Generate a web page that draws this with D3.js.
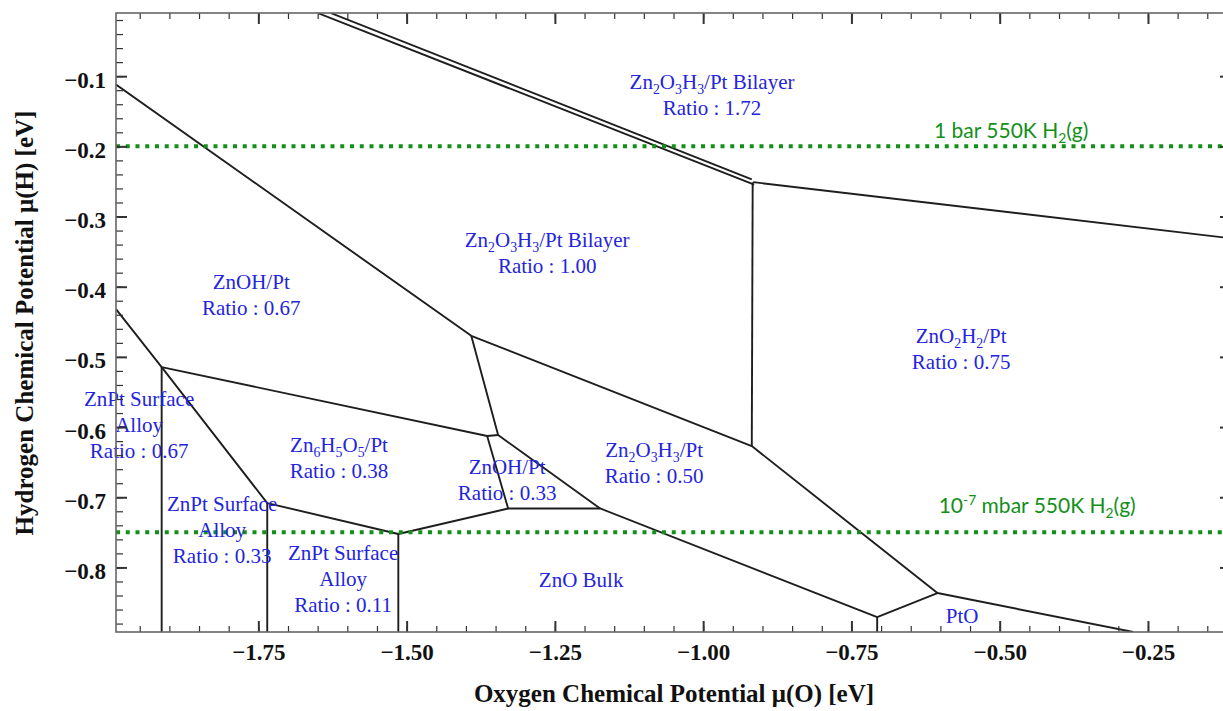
<!DOCTYPE html>
<html>
<head>
<meta charset="utf-8">
<script src="https://cdn.jsdelivr.net/npm/d3@7"></script>
<style>
  body { margin: 0; background: #fff; }
  svg { display: block; }
</style>
</head>
<body>
<div id="chart"></div>
<script>
// ---- data (eV) ----
const xDomain = [-1.99, -0.11];
const yDomain = [-0.892, -0.01];

const xMajorTicks = [-1.75, -1.5, -1.25, -1.0, -0.75, -0.5, -0.25];
const yMajorTicks = [-0.1, -0.2, -0.3, -0.4, -0.5, -0.6, -0.7, -0.8];
const xMinorTicks = d3.range(-39, -2).map(i => i * 0.05);
const yMinorTicks = d3.range(-44, 0).map(i => i * 0.02);

// phase boundaries, polylines of [mu(O), mu(H)]
const boundaryLines = [
  [[-1.99, -0.112], [-1.391, -0.470], [-0.918, -0.627], [-0.605, -0.8365], [-0.275, -0.892]],
  // thin bilayer strip (double line)
  [[-1.6273, -0.0103], [-0.918, -0.247]],
  [[-1.6492, -0.0103], [-0.914, -0.2545]],
  [[-0.9157, -0.251], [-0.11, -0.331]],
  [[-0.9165, -0.251], [-0.918, -0.627]],
  [[-1.391, -0.470], [-1.3457, -0.6114], [-1.1737, -0.716], [-0.7066, -0.8707], [-0.605, -0.8365]],
  [[-1.99, -0.432], [-1.913, -0.5145], [-1.3642, -0.6128], [-1.3457, -0.6114]],
  [[-1.3642, -0.6128], [-1.3288, -0.716], [-1.1737, -0.716]],
  [[-1.3288, -0.716], [-1.514, -0.7524], [-1.735, -0.7083], [-1.913, -0.5145]],
  [[-1.913, -0.5145], [-1.913, -0.892]],
  [[-1.735, -0.7083], [-1.735, -0.892]],
  [[-1.514, -0.7524], [-1.514, -0.892]],
  [[-0.7066, -0.8707], [-0.7066, -0.892]],
];

// phase labels: '|' breaks a line, _{} subscript
const phaseNames = [
  'Zn_{2}O_{3}H_{3}/Pt Bilayer', 'Zn_{2}O_{3}H_{3}/Pt Bilayer', 'ZnOH/Pt',
  'ZnO_{2}H_{2}/Pt', 'ZnPt Surface|Alloy', 'Zn_{6}H_{5}O_{5}/Pt',
  'ZnPt Surface|Alloy', 'ZnPt Surface|Alloy', 'ZnOH/Pt',
  'Zn_{2}O_{3}H_{3}/Pt', 'ZnO Bulk', 'PtO',
];
const phaseRatios = ['1.72', '1.00', '0.67', '0.75', '0.67', '0.38', '0.33', '0.11', '0.33', '0.50', null, null];
const phaseLabelAt = [
  [-0.985, -0.1185], [-1.263, -0.344], [-1.762, -0.4034], [-0.565, -0.4803],
  [-1.951, -0.570], [-1.614, -0.6356], [-1.811, -0.7197], [-1.607, -0.7895],
  [-1.3305, -0.667], [-1.0826, -0.6427], [-1.2057, -0.828], [-0.5632, -0.879],
];

// H2 gas reference levels
const h2Levels = [-0.2, -0.75];
const h2LevelNames = ['1 bar 550K H_{2}(g)', '10^{-7} mbar 550K H_{2}(g)'];
const h2LabelAt = [[-0.4806, -0.1883], [-0.4368, -0.7225]];

// ---- layout ----
const width = 1223;
const height = 711;
const margin = { top: 13, left: 116, bottom: 79 };
const plotRight = 1231; // frame runs just past the picture edge

const x = d3.scaleLinear().domain(xDomain).range([margin.left, plotRight]);
const y = d3.scaleLinear().domain(yDomain).range([height - margin.bottom, margin.top]);

const serif = '"Liberation Serif", "Times New Roman", serif';
const blue = '#2424dc';
const green = '#12901a';

const svg = d3.select('#chart').append('svg')
  .attr('width', width)
  .attr('height', height)
  .style('background', '#fff');

svg.append('clipPath').attr('id', 'plotClip')
  .append('rect')
  .attr('x', x.range()[0]).attr('y', y.range()[1])
  .attr('width', x.range()[1] - x.range()[0])
  .attr('height', y.range()[0] - y.range()[1]);

// rich text with sub/superscripts
function richText(sel, str, fontSize) {
  const parts = str.split(/([_^]\{[^}]*\})/).filter(s => s.length);
  let shift = 0;
  parts.forEach(p => {
    let target = 0;
    let txt = p;
    let size = null;
    if (p[0] === '_') {
      target = fontSize * 0.24; txt = p.slice(2, -1); size = `${fontSize * 0.66}px`;
    } else if (p[0] === '^') {
      target = -fontSize * 0.38; txt = p.slice(2, -1); size = `${fontSize * 0.66}px`;
    }
    sel.append('tspan')
      .attr('dy', target - shift)
      .style('font-size', size)
      .text(txt);
    shift = target;
  });
}

// ---- boundaries ----
const line = d3.line().x(d => x(d[0])).y(d => y(d[1]));

svg.append('g')
  .attr('clip-path', 'url(#plotClip)')
  .selectAll('path')
  .data(boundaryLines)
  .join('path')
  .attr('d', line)
  .style('fill', 'none')
  .style('stroke', '#1e1e1e')
  .style('stroke-width', 1.9)
  .style('stroke-linejoin', 'round');

// ---- H2 levels ----
svg.append('g')
  .selectAll('line')
  .data(h2Levels)
  .join('line')
  .attr('x1', x.range()[0])
  .attr('x2', width)
  .attr('y1', d => y(d))
  .attr('y2', d => y(d))
  .style('stroke', green)
  .style('stroke-width', 4)
  .style('stroke-dasharray', '4 5.75');

const greenSize = 21;
h2LevelNames.forEach((name, i) => {
  const t = svg.append('text')
    .attr('x', x(h2LabelAt[i][0]))
    .attr('y', y(h2LabelAt[i][1]))
    .attr('text-anchor', 'middle')
    .style('font-family', 'Lato, "Open Sans", sans-serif')
    .style('font-size', `${greenSize}px`)
    .style('fill', green);
  richText(t, name, greenSize);
});

// ---- phase labels ----
const labelSize = 21;
const lineGap = 25.8;
phaseNames.forEach((name, i) => {
  const rows = name.split('|');
  if (phaseRatios[i]) rows.push(`Ratio : ${phaseRatios[i]}`);
  rows.forEach((row, j) => {
    const t = svg.append('text')
      .attr('x', x(phaseLabelAt[i][0]))
      .attr('y', y(phaseLabelAt[i][1]) + j * lineGap)
      .attr('text-anchor', 'middle')
      .style('font-family', serif)
      .style('font-size', `${labelSize}px`)
      .style('fill', blue);
    richText(t, row, labelSize);
  });
});

// ---- axes ----
const fmtX = d3.format('.2f');
const fmtY = d3.format('.1f');
const yBottom = y.range()[0];
const yTop = y.range()[1];

function styleAxis(g, w) {
  g.select('.domain').remove();
  g.selectAll('line').style('stroke', '#333').style('stroke-width', w);
  g.selectAll('text')
    .style('font-family', serif)
    .style('font-weight', 'bold')
    .style('font-size', '23px')
    .style('fill', '#111');
}

svg.append('g')
  .attr('transform', `translate(0,${yBottom})`)
  .call(d3.axisBottom(x).tickValues(xMinorTicks).tickSize(-6).tickFormat(''))
  .call(g => styleAxis(g, 1.2));
svg.append('g')
  .attr('transform', `translate(0,${yBottom})`)
  .call(d3.axisBottom(x).tickValues(xMajorTicks).tickSize(-11).tickPadding(12).tickFormat(fmtX))
  .call(g => styleAxis(g, 2));

svg.append('g')
  .attr('transform', `translate(0,${yTop})`)
  .call(d3.axisTop(x).tickValues(xMinorTicks).tickSize(-6).tickFormat(''))
  .call(g => styleAxis(g, 1.2));
svg.append('g')
  .attr('transform', `translate(0,${yTop})`)
  .call(d3.axisTop(x).tickValues(xMajorTicks).tickSize(-11).tickFormat(''))
  .call(g => styleAxis(g, 2));

svg.append('g')
  .attr('transform', `translate(${x.range()[0]},0)`)
  .call(d3.axisLeft(y).tickValues(yMinorTicks).tickSize(-7).tickFormat(''))
  .call(g => styleAxis(g, 1.2));
svg.append('g')
  .attr('transform', `translate(${x.range()[0]},0)`)
  .call(d3.axisLeft(y).tickValues(yMajorTicks).tickSize(-11).tickPadding(10).tickFormat(fmtY))
  .call(g => styleAxis(g, 2))
  .call(g => g.selectAll('text').attr('dy', '0.48em'));

svg.append('g')
  .attr('transform', `translate(${plotRight},0)`)
  .call(d3.axisRight(y).tickValues(yMinorTicks).tickSize(-7).tickFormat(''))
  .call(g => styleAxis(g, 1.2));
svg.append('g')
  .attr('transform', `translate(${plotRight},0)`)
  .call(d3.axisRight(y).tickValues(yMajorTicks).tickSize(-11).tickFormat(''))
  .call(g => styleAxis(g, 2));

// frame
svg.append('rect')
  .attr('x', x.range()[0])
  .attr('y', yTop)
  .attr('width', plotRight - x.range()[0])
  .attr('height', yBottom - yTop)
  .style('fill', 'none')
  .style('stroke', '#666')
  .style('stroke-width', 1.6);

// axis titles
svg.append('text')
  .attr('x', 674)
  .attr('y', 702)
  .attr('text-anchor', 'middle')
  .style('font-family', serif)
  .style('font-weight', 'bold')
  .style('font-size', '25px')
  .style('fill', '#111')
  .text('Oxygen Chemical Potential \u03bc(O) [eV]');

svg.append('text')
  .attr('transform', 'translate(33,323) rotate(-90)')
  .attr('text-anchor', 'middle')
  .style('font-family', serif)
  .style('font-weight', 'bold')
  .style('font-size', '25px')
  .style('fill', '#111')
  .text('Hydrogen Chemical Potential \u03bc(H) [eV]');
</script>
</body>
</html>
